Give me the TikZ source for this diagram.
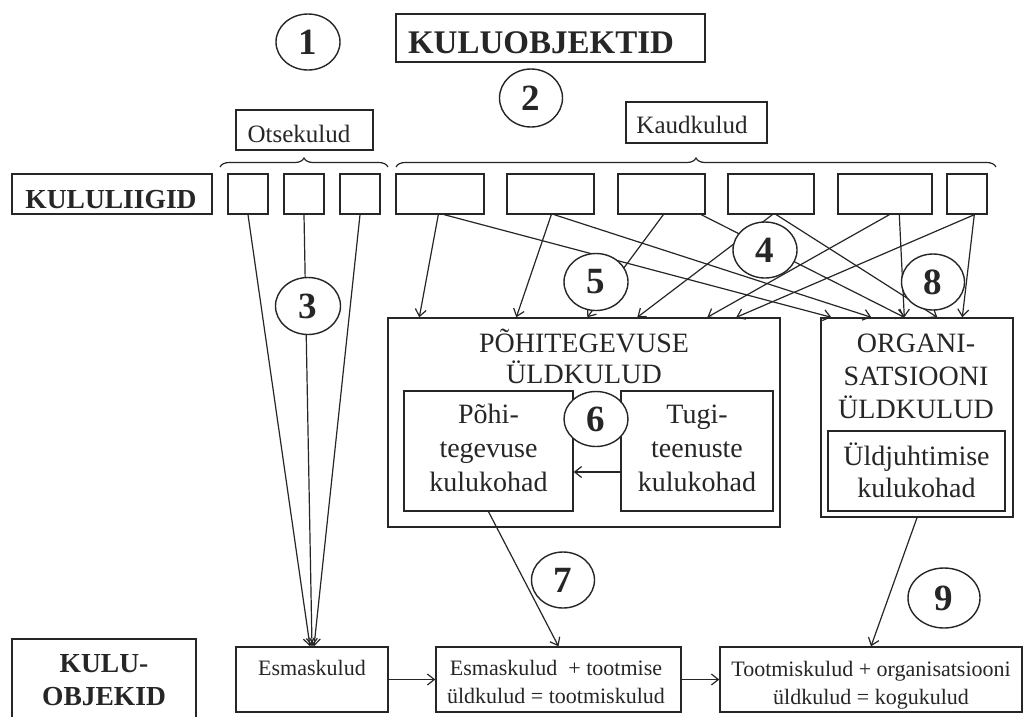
\documentclass[tikz,border=0pt]{standalone}
\usepackage{fontspec}
\setmainfont{Liberation Serif}
\usetikzlibrary{shapes.geometric,arrows.meta,decorations.pathreplacing}
\begin{document}
\begin{tikzpicture}[x=1pt,y=-1pt,line width=1.4pt,color=black!85,
  bx/.style={draw,rectangle,inner sep=0pt},
  num/.style={draw,ellipse,fill=white,inner sep=0pt,font=\fontsize{37}{37}\selectfont\bfseries},
  arr/.style={-{Straight Barb[length=7pt,width=11pt]},line width=1.2pt},
  txt/.style={inner sep=0pt,anchor=base,align=center},
  ftitle/.style={font=\fontsize{33}{38}\selectfont\bfseries},
  fhead/.style={font=\fontsize{27.5}{34}\selectfont\bfseries},
  fbrace/.style={font=\fontsize{25}{30}\selectfont},
  fmain/.style={font=\fontsize{28}{33}\selectfont},
  fsmall/.style={font=\fontsize{22}{29}\selectfont},
  brc/.style={decorate,decoration={brace,amplitude=9pt},line width=1.2pt}]
\useasboundingbox (0,0) rectangle (1033,716);
\clip (0,0) rectangle (1033,716);
\fill[white] (0,0) rectangle (1033,716);

% boxes
\node[bx,minimum width=309pt,minimum height=48pt] (title) at (550.5,38) {};
\node[bx,minimum width=200pt,minimum height=40pt] (kl) at (112,194) {};
\node[bx,minimum width=137pt,minimum height=40pt] (ots) at (304.5,130) {};
\node[bx,minimum width=141pt,minimum height=41pt] (kaud) at (696.5,122.5) {};
\node[bx,minimum width=40pt,minimum height=40pt] (o1) at (248,194) {};
\node[bx,minimum width=40pt,minimum height=40pt] (o2) at (304,194) {};
\node[bx,minimum width=40pt,minimum height=40pt] (o3) at (360,194) {};
\node[bx,minimum width=88pt,minimum height=40pt] (k1) at (440,194) {};
\node[bx,minimum width=87pt,minimum height=40pt] (k2) at (550.5,194) {};
\node[bx,minimum width=87pt,minimum height=40pt] (k3) at (661.5,194) {};
\node[bx,minimum width=86pt,minimum height=40pt] (k4) at (771,194) {};
\node[bx,minimum width=94pt,minimum height=40pt] (k5) at (885,194) {};
\node[bx,minimum width=40pt,minimum height=40pt] (k6) at (967,194) {};
\node[bx,minimum width=392pt,minimum height=209pt] (poh) at (584,422.5) {};
\node[bx,minimum width=169pt,minimum height=120pt] (pk) at (488.5,451) {};
\node[bx,minimum width=152pt,minimum height=120pt] (tk) at (697,451) {};
\node[bx,minimum width=192pt,minimum height=199pt] (org) at (917,417.5) {};
\node[bx,minimum width=177pt,minimum height=80pt] (uk) at (916.5,471) {};
\node[bx,minimum width=184pt,minimum height=121pt] (ko) at (104,699.5) {};
\node[bx,minimum width=152pt,minimum height=65pt] (esm) at (312,679.5) {};
\node[bx,minimum width=245pt,minimum height=65pt] (b2) at (558.5,679.5) {};
\node[bx,minimum width=302pt,minimum height=65pt] (b3) at (871,679.5) {};

% texts (anchor = baseline of the last line)
\node[txt,ftitle] (ttitle) at (541,53) {KULUOBJEKTID};
\node[txt,fhead] (tkl) at (111,208) {KULULIIGID};
\node[txt,fbrace] (tots) at (299,142) {Otsekulud};
\node[txt,fbrace] (tkaud) at (692,133) {Kaudkulud};
\node[txt,fmain] (tpoh) at (584,383) {PÕHITEGEVUSE\\[-2pt]ÜLDKULUD};
\node[txt,fmain] (tpk) at (488.5,491) {Põhi-\\[1pt]tegevuse\\[1pt]kulukohad};
\node[txt,fmain] (ttk) at (697,491) {Tugi-\\[1pt]teenuste\\[1pt]kulukohad};
\node[txt,fmain] (torg) at (916,418) {ORGANI-\\SATSIOONI\\ÜLDKULUD};
\node[txt,fmain] (tuk) at (916.5,497) {Üldjuhtimise\\[-1pt]kulukohad};
\node[txt,fhead] (tko) at (104,705) {KULU-\\[-1pt]OBJEKID};
\node[txt,fsmall] (tesm) at (312,675) {Esmaskulud};
\node[txt,fsmall] (tb2) at (556,703) {Esmaskulud~ + tootmise\\[-1pt]üldkulud = tootmiskulud};
\node[txt,fsmall] (tb3) at (871,704) {Tootmiskulud + organisatsiooni\\[-1pt]üldkulud = kogukulud};

% braces
\draw[brc] (220,167) -- (388,167);
\draw[brc] (396,167) -- (996,167);

% connectors
\draw[arr] (o1.south) -- ([xshift=-2pt]esm.north);
\draw[arr] (o2.south) -- (esm.north);
\draw[arr] (o3.south) -- ([xshift=2pt]esm.north);

\draw[arr] ([xshift=43pt]k1.south west) -- ([xshift=32pt]poh.north west);
\draw[arr] ([xshift=49pt]k1.south west) -- ([xshift=11pt]org.north west);
\draw[arr] ([xshift=45pt]k2.south west) -- ([xshift=129pt]poh.north west);
\draw[arr] ([xshift=48pt]k2.south west) -- ([xshift=51pt]org.north west);
\draw[arr] ([xshift=46pt]k3.south west) -- ([xshift=200pt]poh.north west);
\draw[arr] ([xshift=84pt]k3.south west) -- ([xshift=84pt]org.north west);
\draw[arr] ([xshift=45pt]k4.south west) -- ([xshift=250pt]poh.north west);
\draw[arr] ([xshift=49pt]k4.south west) -- ([xshift=117pt]org.north west);
\draw[arr] ([xshift=52pt]k5.south west) -- ([xshift=320pt]poh.north west);
\draw[arr] ([xshift=62pt]k5.south west) -- ([xshift=84pt]org.north west);
\draw[arr] ([xshift=28pt]k6.south west) -- ([xshift=349pt]poh.north west);
\draw[arr] ([xshift=28pt]k6.south west) -- ([xshift=142pt]org.north west);

\draw[arr] ([yshift=-21pt]tk.west) -- ([yshift=-21pt]pk.east);
\draw[arr] (pk.south) -- (b2.north);
\draw[arr] (org.south) -- (b3.north);
\draw[arr] (esm.east) -- (b2.west);
\draw[arr] (b2.east) -- (b3.west);

% numbered circles
\node[num,minimum width=64pt,minimum height=56pt] (c1) at (308,42) {1};
\node[num,minimum width=63pt,minimum height=58pt] (c2) at (531,98) {2};
\node[num,minimum width=65pt,minimum height=57pt] (c3) at (308,306) {3};
\node[num,minimum width=64pt,minimum height=56pt] (c4) at (765,250) {4};
\node[num,minimum width=64pt,minimum height=57pt] (c5) at (596,282) {5};
\node[num,minimum width=64pt,minimum height=55pt] (c6) at (596,419) {6};
\node[num,minimum width=63pt,minimum height=56pt] (c7) at (563,580) {7};
\node[num,minimum width=63pt,minimum height=56pt] (c8) at (933,282) {8};
\node[num,minimum width=72pt,minimum height=60pt] (c9) at (944,598) {9};
\end{tikzpicture}
\end{document}
